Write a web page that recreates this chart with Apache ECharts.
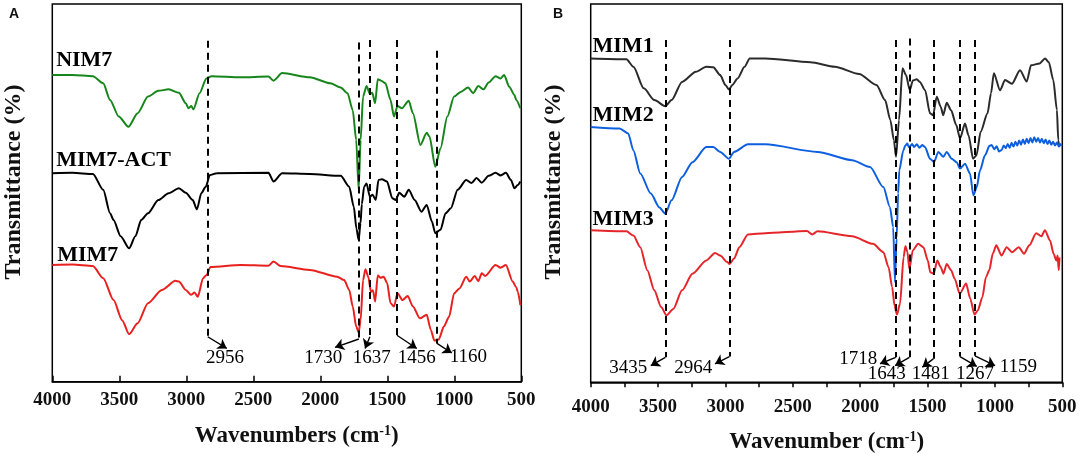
<!DOCTYPE html>
<html>
<head>
<meta charset="utf-8">
<script src="https://cdn.jsdelivr.net/npm/echarts@6/dist/echarts.min.js"></script>
<style>
  html, body { margin: 0; padding: 0; background: #fff; }
  #chart { width: 1084px; height: 461px; }
</style>
</head>
<body>
<div id="chart"></div>
<script>
// FTIR spectra: [wavenumber cm-1, transmittance (arb. units, curves offset)]
const nim7 = [
  [4000, 81.2], [3850, 81.2], [3697, 80.9], [3620, 79.0], [3569, 74.6], [3504, 70.2], [3432, 67.5],
  [3363, 71.1], [3286, 75.5], [3209, 77.0], [3132, 77.4], [3055, 76.5], [3004, 73.7], [2983, 72.4],
  [2963, 73.0], [2947, 72.1], [2901, 76.4], [2850, 80.3], [2811, 80.9], [2593, 80.6], [2387, 80.8],
  [2349, 79.7], [2285, 81.7], [2079, 80.6], [1925, 79.0], [1848, 77.9], [1797, 76.4], [1758, 71.9],
  [1732, 64.0], [1714, 50.9], [1699, 64.0], [1681, 75.5], [1655, 78.3], [1630, 76.2], [1612, 76.5],
  [1591, 73.7], [1571, 80.1], [1545, 79.7], [1514, 79.0], [1476, 74.6], [1450, 70.2], [1424, 73.0],
  [1391, 72.4], [1340, 74.4], [1309, 71.1], [1253, 62.7], [1206, 65.9], [1185, 64.9], [1142, 56.9],
  [1103, 61.8], [1052, 70.2], [1001, 75.5], [949, 76.8], [898, 77.9], [859, 76.4], [821, 78.3],
  [782, 77.4], [744, 79.2], [692, 80.9], [654, 80.3], [628, 81.2], [590, 78.1], [551, 75.9],
  [538, 74.6], [507, 72.4]
]
const mim7Act = [
  [4000, 55.2], [3850, 55.3], [3697, 55.0], [3620, 50.8], [3569, 44.6], [3543, 42.8], [3490, 38.5],
  [3427, 35.3], [3380, 38.5], [3337, 42.8], [3286, 44.6], [3209, 48.1], [3132, 49.9], [3055, 51.2],
  [3004, 50.0], [2952, 48.1], [2921, 45.6], [2888, 49.9], [2855, 51.6], [2824, 54.7], [2773, 55.2],
  [2387, 55.3], [2349, 53.0], [2285, 55.2], [2079, 55.0], [1848, 54.5], [1784, 51.6], [1750, 46.3],
  [1730, 40.5], [1714, 37.5], [1700, 42.0], [1690, 47.0], [1673, 51.6], [1655, 52.5], [1630, 49.0],
  [1610, 49.5], [1586, 48.1], [1566, 53.4], [1540, 53.6], [1502, 53.0], [1463, 48.6], [1437, 48.1],
  [1411, 50.0], [1373, 49.0], [1340, 50.8], [1296, 48.1], [1245, 45.0], [1206, 46.8], [1167, 42.4],
  [1142, 39.3], [1103, 40.2], [1065, 44.6], [1026, 45.9], [975, 50.8], [911, 53.4], [872, 52.6],
  [834, 53.9], [795, 52.7], [744, 54.5], [692, 55.3], [654, 54.6], [615, 55.3], [577, 53.4],
  [551, 51.2], [526, 52.1], [507, 53.0]
]
const mim7 = [
  [4000, 30.9], [3850, 31.0], [3697, 30.6], [3620, 27.4], [3543, 21.6], [3479, 16.3], [3427, 12.6],
  [3363, 15.5], [3286, 20.8], [3183, 24.3], [3081, 26.7], [3055, 26.5], [3004, 24.3], [2965, 23.0],
  [2939, 23.6], [2914, 22.5], [2875, 27.4], [2850, 28.2], [2819, 30.4], [2593, 30.9], [2387, 30.7],
  [2349, 31.8], [2297, 30.6], [2079, 29.6], [1874, 27.8], [1822, 26.9], [1784, 24.3], [1758, 19.9],
  [1732, 14.6], [1714, 13.0], [1699, 16.3], [1681, 26.9], [1663, 29.8], [1642, 27.8], [1622, 23.8],
  [1607, 24.2], [1591, 21.2], [1571, 28.2], [1550, 27.5], [1527, 27.8], [1501, 26.1], [1476, 20.8],
  [1450, 19.9], [1424, 23.4], [1386, 21.6], [1348, 22.7], [1309, 19.9], [1257, 16.8], [1206, 17.7],
  [1175, 13.7], [1149, 10.9], [1116, 11.2], [1078, 14.6], [1039, 17.2], [1001, 23.4], [962, 24.7],
  [911, 27.8], [885, 26.5], [847, 28.0], [821, 26.6], [795, 28.7], [770, 28.0], [692, 30.9],
  [654, 30.2], [615, 30.9], [564, 26.5], [538, 25.0], [526, 23.8], [507, 20.3]
]
const mim1 = [
  [4000, 85.6], [3735, 85.4], [3683, 83.4], [3606, 77.7], [3528, 74.6], [3446, 73.0], [3400, 74.6],
  [3322, 79.4], [3219, 82.1], [3142, 83.4], [3090, 83.3], [3039, 81.2], [3000, 78.6], [2974, 77.4],
  [2949, 78.6], [2910, 80.3], [2858, 83.4], [2820, 85.6], [2704, 85.6], [2369, 84.6], [2188, 83.4],
  [2008, 81.5], [1879, 78.6], [1815, 74.6], [1776, 69.3], [1750, 64.0], [1734, 59.6], [1712, 69.3],
  [1686, 83.0], [1660, 81.2], [1632, 77.2], [1609, 79.8], [1580, 80.1], [1557, 79.4], [1518, 77.2],
  [1482, 71.1], [1459, 70.6], [1432, 75.5], [1402, 72.8], [1384, 70.6], [1358, 73.9], [1325, 71.9],
  [1287, 68.0], [1259, 64.5], [1222, 68.4], [1196, 65.3], [1162, 59.1], [1137, 60.0], [1106, 66.2],
  [1055, 71.1], [1029, 76.4], [1008, 81.7], [962, 77.2], [925, 79.9], [874, 78.9], [814, 82.5],
  [764, 79.5], [732, 83.8], [668, 84.3], [628, 85.6], [600, 84.6], [567, 79.9], [540, 72.0],
  [530, 64.0], [523, 62.2]
]
const mim2 = [
  [4000, 67.5], [3786, 67.1], [3722, 65.8], [3683, 61.3], [3632, 55.2], [3554, 49.9], [3490, 46.2],
  [3446, 44.6], [3400, 48.1], [3322, 54.3], [3245, 58.2], [3142, 62.2], [3090, 62.2], [3039, 60.9],
  [2974, 59.1], [2936, 60.9], [2833, 62.9], [2704, 62.9], [2317, 60.9], [2060, 58.7], [1927, 56.9],
  [1828, 51.6], [1779, 46.3], [1755, 41.0], [1742, 26.5], [1730, 38.0], [1718, 50.0], [1710, 56.0],
  [1680, 61.3], [1665, 62.6], [1650, 63.1], [1640, 62.2], [1630, 62.4], [1615, 63.0], [1600, 62.2],
  [1580, 62.9], [1560, 62.0], [1540, 62.7], [1519, 62.2], [1482, 59.1], [1452, 58.2], [1420, 60.9],
  [1383, 59.6], [1358, 60.9], [1321, 59.1], [1284, 58.2], [1259, 56.5], [1222, 57.8], [1185, 55.2],
  [1160, 49.4], [1135, 51.6], [1111, 56.0], [1074, 60.0], [1040, 62.5], [1024, 62.7], [1005, 61.6],
  [987, 62.4], [970, 61.0], [950, 61.4], [935, 62.6], [920, 61.9], [905, 63.0], [890, 62.0],
  [876, 63.3], [862, 62.3], [848, 63.6], [834, 62.6], [820, 63.9], [806, 62.8], [792, 64.2],
  [778, 63.0], [764, 64.4], [750, 63.2], [736, 64.6], [722, 63.4], [708, 64.8], [694, 63.6],
  [680, 64.6], [666, 63.4], [652, 64.4], [638, 63.2], [624, 64.2], [610, 63.0], [596, 63.9],
  [582, 62.8], [568, 63.6], [554, 62.6], [540, 63.4], [526, 62.3], [512, 63.0], [505, 62.5]
]
const mim3 = [
  [4000, 40.2], [3735, 39.9], [3683, 38.8], [3632, 35.7], [3580, 29.6], [3528, 24.3], [3477, 19.9],
  [3438, 17.7], [3387, 19.4], [3322, 24.3], [3245, 28.7], [3142, 32.2], [3077, 34.2], [3039, 33.5],
  [2987, 31.8], [2969, 31.3], [2936, 32.7], [2897, 35.7], [2833, 39.1], [2704, 39.4], [2395, 40.0],
  [2356, 39.1], [2317, 39.9], [2060, 38.6], [1905, 36.6], [1828, 34.4], [1789, 30.4], [1763, 25.2],
  [1745, 20.3], [1727, 17.9], [1704, 20.8], [1678, 33.1], [1664, 36.0], [1650, 34.5], [1635, 30.0],
  [1609, 34.9], [1570, 36.6], [1531, 35.7], [1498, 32.2], [1480, 29.1], [1454, 28.7], [1428, 32.2],
  [1402, 30.4], [1382, 28.7], [1358, 31.3], [1325, 29.6], [1299, 27.4], [1261, 23.4], [1214, 26.1],
  [1183, 22.1], [1152, 17.9], [1127, 19.0], [1093, 22.5], [1067, 27.8], [1042, 29.6], [1016, 34.0],
  [990, 36.2], [951, 33.5], [913, 35.7], [874, 34.4], [823, 35.7], [784, 34.0], [745, 36.2],
  [694, 39.4], [655, 38.6], [629, 40.2], [591, 37.5], [565, 34.0], [544, 32.2], [535, 33.5],
  [526, 29.6], [521, 33.0]
]

// curve name tags: [wavenumber, level, text]
const namesA = [[3975, 85.2, 'NIM7'], [3975, 58.7, 'MIM7-ACT'], [3967, 33.5, 'MIM7']]
const namesB = [[3990, 88.9, 'MIM1'], [3990, 70.6, 'MIM2'], [3990, 43.1, 'MIM3']]

// peak markers (panel A): dashed line position, its top/bottom, arrow tip, label
const peakTextA = ['2956', '1730', '1637', '1456', '1160']
const peakLineA = [2840, 1712, 1630, 1428, 1132]
const peakTopA = [90.3, 89.8, 90.5, 90.5, 87.6]
const peakEndA = [11.9, 11.3, 11.9, 12.3, 10.2]
const peakTipA = [[2698, 8.8], [1890, 9.1], [1666, 8.8], [1280, 8.8], [1019, 7.6]]
const peakLabelA = [[2711, 6.2], [1978, 6.2], [1616, 6.2], [1280, 6.2], [895, 6.6]]

// peak markers (panel B)
const peakTextB = ['3435', '2964', '1718', '1643', '1481', '1267', '1159']
const peakLineB = [3446, 2971, 1736, 1635, 1457, 1259, 1148]
const peakTopB = [90.5, 90.5, 90.5, 90.9, 90.5, 90.5, 90.5]
const peakEndB = [6.6, 6.8, 6.6, 6.6, 6.2, 6.8, 7.0]
const peakTipB = [[3554, 4.4], [3077, 4.9], [1853, 4.9], [1741, 4.4], [1539, 4.0], [1135, 4.2], [999, 4.4]]
const peakLabelB = [[3722, 3.7], [3239, 3.7], [2014, 6.2], [1803, 2.2], [1477, 2.2], [1148, 2.2], [826, 4.0]]

const serif = "'Liberation Serif', 'Times New Roman', serif"
const chart = echarts.init(document.getElementById('chart'))

const spectrum = (name, data, color, idx) => ({
  type: 'line',
  name,
  data,
  xAxisIndex: idx,
  yAxisIndex: idx,
  showSymbol: false,
  smooth: 0.25,
  smoothMonotone: 'x',
  silent: true,
  lineStyle: { color, width: 2 },
  z: 3,
})

const dashedLines = (lines, tops, ends) => ({
  silent: true,
  symbol: 'none',
  label: { show: false },
  lineStyle: { color: '#000', width: 2, type: [7, 5] },
  data: lines.map((wn, i) => [{ coord: [wn, tops[i]] }, { coord: [wn, ends[i]] }]),
})

const arrows = (lines, ends, tips) => ({
  silent: true,
  symbol: ['none', 'arrow'],
  symbolSize: 9,
  label: { show: false },
  lineStyle: { color: '#000', width: 1.4, type: 'solid' },
  data: lines.map((wn, i) => [
    { coord: [wn, ends[i]], symbol: 'none' },
    { coord: tips[i], symbol: 'arrow', symbolSize: 9 },
  ]),
})

const textSeries = (data, idx, font, position) => ({
  type: 'scatter',
  xAxisIndex: idx,
  yAxisIndex: idx,
  data,
  symbolSize: 1,
  silent: true,
  itemStyle: { color: 'transparent', opacity: 1 },
  label: {
    show: true,
    position,
    distance: 0,
    opacity: 1,
    formatter: (p) => p.data[2],
    color: '#000',
    fontFamily: serif,
    ...font,
  },
  z: 5,
})

const xAxisBase = (idx, interval, tickInside) => ({
  type: 'value',
  gridIndex: idx,
  min: 500,
  max: 4000,
  interval,
  inverse: true,
  axisLine: { show: true, lineStyle: { color: '#000', width: 1.5 } },
  axisTick: { show: true, inside: tickInside, length: tickInside ? 6 : 5, lineStyle: { color: '#000', width: 1.5 } },
  axisLabel: {
    margin: tickInside ? 9 : 15,
    color: '#111',
    fontFamily: serif,
    fontWeight: 'bold',
    fontSize: 19,
    formatter: (v) => (v % 500 === 0 ? String(v) : ''),
  },
  splitLine: { show: false },
})

const yAxisBase = (idx) => ({ type: 'value', gridIndex: idx, min: 0, max: 100, show: false })

const titleStyle = { fill: '#111', font: 'bold 23px ' + serif, fontFamily: serif, fontWeight: 'bold', fontSize: 23 }
const yTitleStyle = { fill: '#111', font: 'bold 24px ' + serif, fontFamily: serif, fontWeight: 'bold', fontSize: 24 }
const centered = { textAlign: 'center', textVerticalAlign: 'middle', align: 'center', verticalAlign: 'middle' }
const letterFont = "bold 14px 'Liberation Sans', Arial, sans-serif"

const option = {
  backgroundColor: '#fff',
  animation: false,
  grid: [
    { left: 52.3, right: 562.7, top: 4, bottom: 79.3, show: true, borderColor: '#000', borderWidth: 1.5 },
    { left: 590.7, right: 21.7, top: 4, bottom: 78.7, show: true, borderColor: '#000', borderWidth: 1.5 },
  ],
  xAxis: [xAxisBase(0, 500, true), xAxisBase(1, 250, false)],
  yAxis: [yAxisBase(0), yAxisBase(1)],
  series: [
    { ...spectrum('NIM7', nim7, '#17861a', 0), markLine: dashedLines(peakLineA, peakTopA, peakEndA) },
    { ...spectrum('MIM7-ACT', mim7Act, '#000000', 0), markLine: arrows(peakLineA, peakEndA, peakTipA) },
    spectrum('MIM7', mim7, '#e8201e', 0),
    { ...spectrum('MIM1', mim1, '#2b2b2b', 1), markLine: dashedLines(peakLineB, peakTopB, peakEndB) },
    { ...spectrum('MIM2', mim2, '#0d5fe0', 1), markLine: arrows(peakLineB, peakEndB, peakTipB) },
    spectrum('MIM3', mim3, '#e5252a', 1),
    textSeries(namesA, 0, { fontSize: 22, fontWeight: 'bold' }, 'right'),
    textSeries(namesB, 1, { fontSize: 22, fontWeight: 'bold' }, 'right'),
    textSeries(peakLabelA.map((p, i) => [p[0], p[1], peakTextA[i]]), 0, { fontSize: 19 }, 'inside'),
    textSeries(peakLabelB.map((p, i) => [p[0], p[1], peakTextB[i]]), 1, { fontSize: 19 }, 'inside'),
  ],
  graphic: [
    { type: 'text', x: 14, y: 14, style: { text: 'A', fill: '#111', font: letterFont, ...centered } },
    { type: 'text', x: 558, y: 14, style: { text: 'B', fill: '#111', font: letterFont, ...centered } },
    { type: 'text', x: 14, y: 182, rotation: Math.PI / 2, style: { text: 'Transmittance (%)', ...yTitleStyle, ...centered } },
    { type: 'text', x: 554, y: 182, rotation: Math.PI / 2, style: { text: 'Transmittance (%)', ...yTitleStyle, ...centered } },
    {
      type: 'text', x: 296.7, y: 436,
      style: {
        text: 'Wavenumbers (cm{s|-1})', ...titleStyle, ...centered,
        rich: { s: { fontSize: 14, fontFamily: serif, fontWeight: 'bold', fill: '#111', verticalAlign: 'top', lineHeight: 22 } },
      },
    },
    {
      type: 'text', x: 826.7, y: 441.7,
      style: {
        text: 'Wavenumber (cm{s|-1})', ...titleStyle, ...centered,
        rich: { s: { fontSize: 14, fontFamily: serif, fontWeight: 'bold', fill: '#111', verticalAlign: 'top', lineHeight: 14 } },
      },
    },
  ],
}

chart.setOption(option)
</script>
</body>
</html>
